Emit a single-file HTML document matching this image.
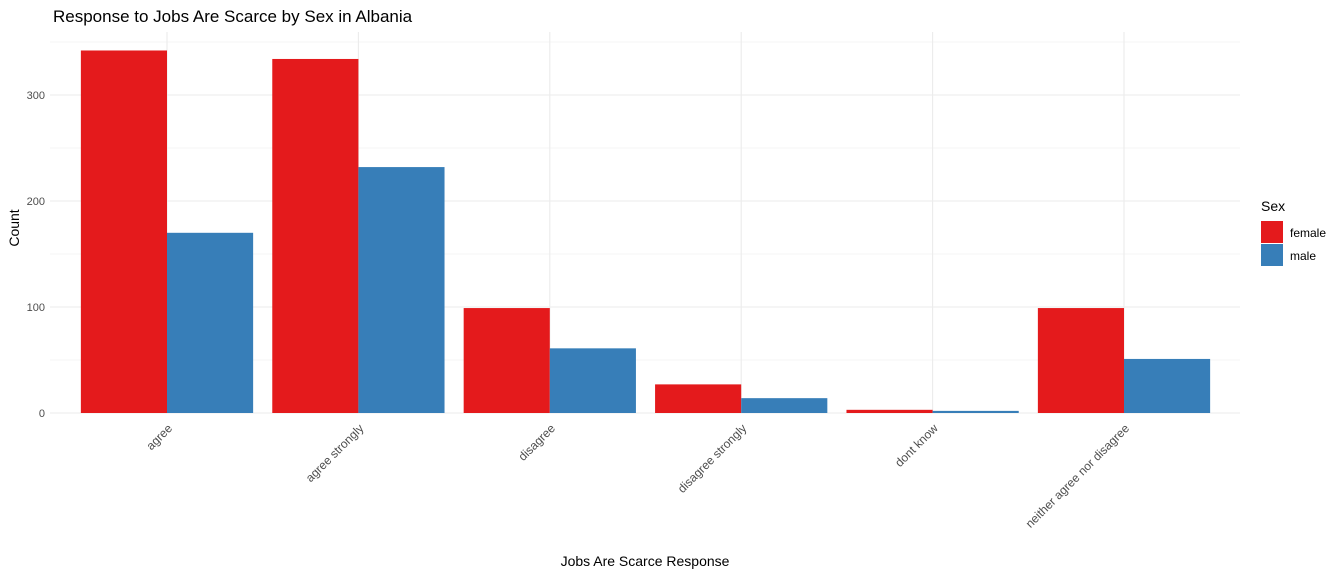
<!DOCTYPE html>
<html><head><meta charset="utf-8"><style>
body{margin:0;background:#fff;font-family:"Liberation Sans",sans-serif;}
</style></head><body>
<svg id="c" width="1344" height="576" xmlns="http://www.w3.org/2000/svg">
<text x="53" y="22" font-size="17" fill="#000">Response to Jobs Are Scarce by Sex in Albania</text>
<g id="grid"></g><g id="bars"></g><g id="axes"></g>
<text x="645" y="566" font-size="14" text-anchor="middle" fill="#000">Jobs Are Scarce Response</text>
<text transform="translate(19,228) rotate(-90)" font-size="14" text-anchor="middle" fill="#000">Count</text>
<g>
<text x="1261" y="211" font-size="14" fill="#000">Sex</text>
<rect x="1261" y="221" width="22" height="22" fill="#E41A1C"/>
<text x="1290" y="237" font-size="12" fill="#000">female</text>
<rect x="1261" y="244" width="22" height="22" fill="#377EB8"/>
<text x="1290" y="260" font-size="12" fill="#000">male</text>
</g>
</svg>
<script>
const categories=["agree","agree strongly","disagree","disagree strongly","dont know","neither agree nor disagree"];
const female=[342,334,99,27,3,99];
const male=[170,232,61,14,2,51];
const yTicks=[0,100,200,300];
const NS="http://www.w3.org/2000/svg";
const px0=50,px1=1240,x0=71.3,x1=1219.7,yBase=413,pxPer=1.06;
const step=(x1-x0)/categories.length;
const bw=step*0.45;
function y(v){return yBase-v*pxPer;}
function cx(i){return x0+step*(i+0.5);}
function mk(tag,attrs,parent){const e=document.createElementNS(NS,tag);for(const k in attrs)e.setAttribute(k,attrs[k]);parent.appendChild(e);return e;}
const grid=document.getElementById('grid'),bars=document.getElementById('bars'),axes=document.getElementById('axes');
for(let v=0;v<=350;v+=50){
 const l=mk('line',{x1:px0,x2:px1,y1:y(v),y2:y(v),stroke:'#ebebeb','stroke-width':v%100===0?1.1:0.6},grid);
 
 
}
categories.forEach((c,i)=>{
 const l=mk('line',{x1:cx(i),x2:cx(i),y1:32,y2:yBase,stroke:'#ebebeb','stroke-width':1.1},grid);
 
 
});
yTicks.forEach(v=>{
 const t=mk('text',{x:45,y:y(v)+4,'font-size':11,'text-anchor':'end',fill:'#4d4d4d'},axes);
 t.textContent=v;
 
 
});
categories.forEach((c,i)=>{
 const f=mk('rect',{x:cx(i)-bw,y:y(female[i]),width:bw,height:female[i]*pxPer,fill:'#E41A1C'},bars);
 
 
 const m=mk('rect',{x:cx(i),y:y(male[i]),width:bw,height:male[i]*pxPer,fill:'#377EB8'},bars);
 
 
 const t=mk('text',{transform:`translate(${cx(i)+6},${yBase+16}) rotate(-45)`,'font-size':12,'text-anchor':'end',fill:'#4d4d4d'},axes);
 t.textContent=c;
 
 
});
</script>
</body></html>
